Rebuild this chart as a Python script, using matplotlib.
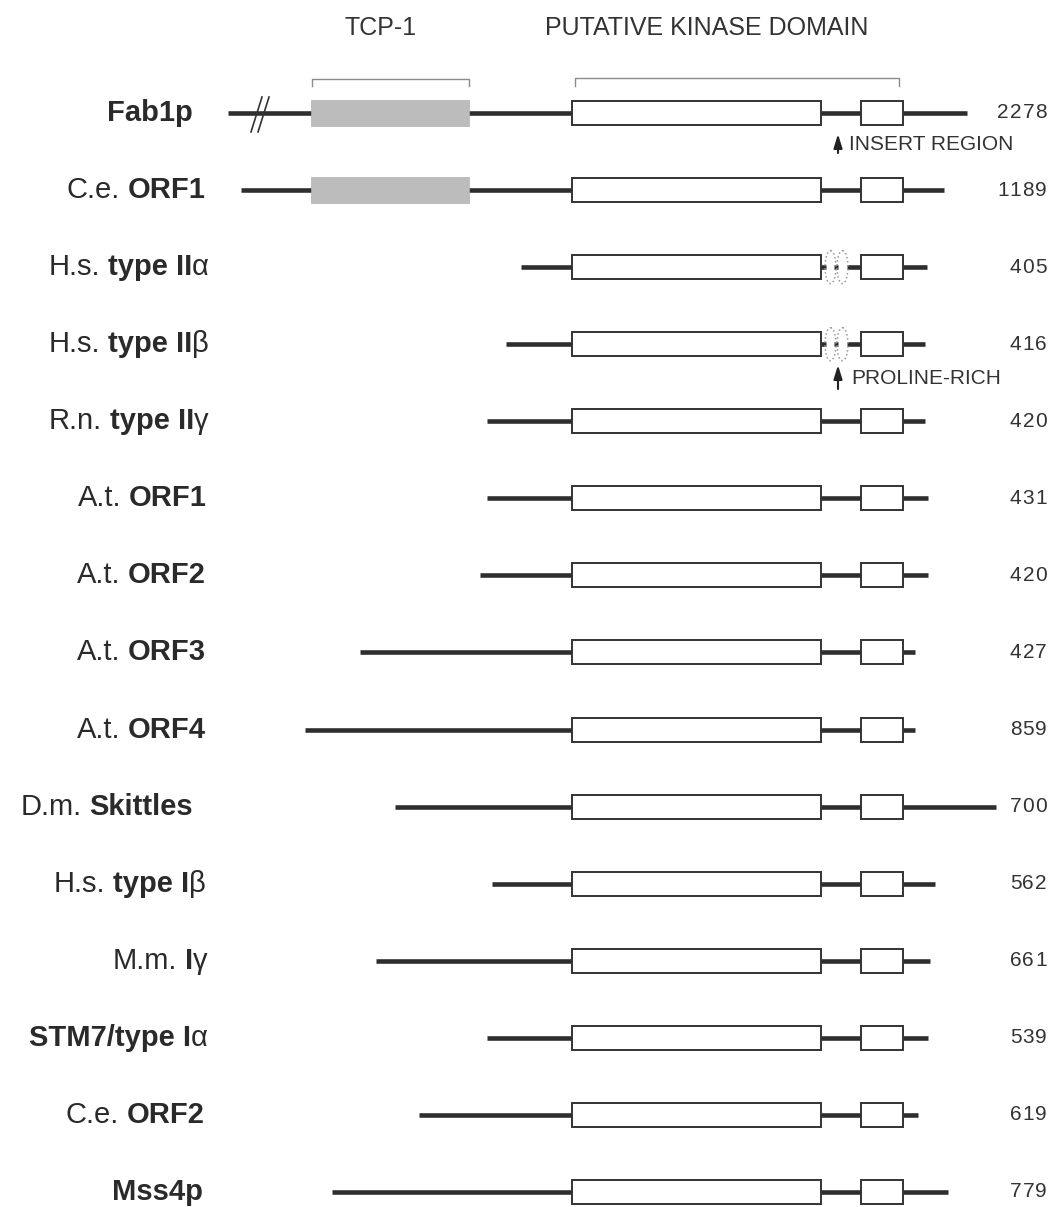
import matplotlib
matplotlib.use("Agg")
import matplotlib.pyplot as plt
from matplotlib.patches import Rectangle, Ellipse

plt.rcParams['font.family'] = ['Liberation Sans', 'DejaVu Sans']

# protein names: (text, weight) pieces, read left to right
labels = [
    [("Fab1p", "bold")],
    [("C.e.", "normal"), ("ORF1", "bold")],
    [("H.s.", "normal"), ("type II", "bold"), ("\u03b1", "normal")],
    [("H.s.", "normal"), ("type II", "bold"), ("\u03b2", "normal")],
    [("R.n.", "normal"), ("type II", "bold"), ("\u03b3", "normal")],
    [("A.t.", "normal"), ("ORF1", "bold")],
    [("A.t.", "normal"), ("ORF2", "bold")],
    [("A.t.", "normal"), ("ORF3", "bold")],
    [("A.t.", "normal"), ("ORF4", "bold")],
    [("D.m.", "normal"), ("Skittles", "bold")],
    [("H.s.", "normal"), ("type I", "bold"), ("\u03b2", "normal")],
    [("M.m.", "normal"), ("I", "bold"), ("\u03b3", "normal")],
    [("STM7/type I", "bold"), ("\u03b1", "normal")],
    [("C.e.", "normal"), ("ORF2", "bold")],
    [("Mss4p", "bold")],
]
lengths = [2278, 1189, 405, 416, 420, 431, 420, 427, 859, 700, 562, 661, 539, 619, 779]

# N-terminal start and C-terminal end of each drawn chain (diagram x units)
n_start = [228, 241, 521, 506, 487, 487, 480, 360, 305, 395, 492, 376, 487, 419, 332]
c_end = [967, 944, 927, 925, 925, 928, 928, 915, 915, 996, 935, 930, 928, 918, 948]

has_tcp1 = [True, True] + [False] * 13
proline_rich = [False, False, True, True] + [False] * 11

# domain extents shared by all rows
kinase = (572, 821)
insert = (861, 903)
tcp1 = (311, 469)

label_right = [193, 206, 209, 209, 209, 207, 206, 206, 206, 193, 206, 208, 208, 205, 203]
greek = ("\u03b1", "\u03b2", "\u03b3")

fig = plt.figure(figsize=(10.57, 12.07), dpi=100)
ax = fig.add_axes([0, 0, 1, 1])
ax.set_xlim(0, 1057)
ax.set_ylim(1207, 0)
ax.axis('off')

line_col = '#2e2e2e'
lw_chain = 3.3
half = 12

for i in range(len(labels)):
    y = 113 + 77.07 * i

    ax.plot([n_start[i], kinase[0]], [y, y], color=line_col, lw=lw_chain,
            solid_capstyle='butt', zorder=1)
    ax.plot([insert[1], c_end[i]], [y, y], color=line_col, lw=lw_chain,
            solid_capstyle='butt', zorder=1)

    if proline_rich[i]:
        for a, b in [(kinase[1], 826), (834, 838), (847, insert[0])]:
            ax.plot([a, b], [y, y], color=line_col, lw=lw_chain,
                    solid_capstyle='butt', zorder=1)
        for cx in (830.5, 842.5):
            ax.add_patch(Ellipse((cx, y), 11, 33, fill=False, ls=':',
                                 ec='#9a9a9a', lw=1.1, zorder=2))
    else:
        ax.plot([kinase[1], insert[0]], [y, y], color=line_col, lw=lw_chain,
                solid_capstyle='butt', zorder=1)

    if has_tcp1[i]:
        ax.add_patch(Rectangle((tcp1[0], y - half - 1), tcp1[1] - tcp1[0], 2 * half + 2,
                               fc='#bcbcbc', ec='#b0b0b0', lw=0.5, zorder=3))

    for x0, x1 in (kinase, insert):
        ax.add_patch(Rectangle((x0, y - half), x1 - x0, 2 * half,
                               fc='white', ec='#333333', lw=1.4, zorder=3))

    # label pieces placed right to left
    parts = labels[i]
    txt, wt = parts[-1]
    prev = ax.text(label_right[i], y, txt, fontsize=21, fontweight=wt,
                   color='#2a2a2a', ha='right', va='center')
    for k in range(len(parts) - 2, -1, -1):
        txt, wt = parts[k]
        gap = 0 if parts[k + 1][0] in greek else 8
        prev = ax.annotate(txt, xy=(0, 0), xycoords=prev, xytext=(-gap, 0),
                           textcoords='offset pixels', fontsize=21, fontweight=wt,
                           color='#2a2a2a', ha='right', va='bottom')

    # chain length, digits set on an even pitch
    digits = str(lengths[i])
    for k, d in enumerate(reversed(digits)):
        ax.text(1041 - 12.7 * k, y, d, fontsize=15, color='#333333',
                ha='center', va='center')

# break mark on Fab1p
y0 = 113
for dx in (0, 7):
    ax.plot([251 + dx, 262 + dx], [y0 + 19, y0 - 16], color='#333333', lw=1.2, zorder=4)

# domain brackets and headings
ax.plot([312, 312, 469, 469], [86, 79, 79, 86], color='#8a8a8a', lw=1.0)
ax.plot([575, 575, 899, 899], [86, 78, 78, 86], color='#8a8a8a', lw=1.0)
ax.text(381, 28, "TCP-1", fontsize=18, color='#333333', ha='center', va='center')
ax.text(707, 28, "PUTATIVE KINASE DOMAIN", fontsize=18, color='#333333',
        ha='center', va='center')

# annotations with arrows
arrow = dict(arrowstyle="-|>,head_length=0.55,head_width=0.17", lw=1.5,
             color='#222222', shrinkA=0, shrinkB=0, mutation_scale=15)
ax.annotate("", xy=(838, 134), xytext=(838, 153), arrowprops=arrow)
ax.text(849, 144, "INSERT REGION", fontsize=15, color='#333333', ha='left', va='center')
ax.annotate("", xy=(838, 365), xytext=(838, 389), arrowprops=arrow)
ax.text(851, 379, "PROLINE-RICH", fontsize=15, color='#333333', ha='left', va='center')

fig.savefig("out.png", dpi=100, facecolor='white')
